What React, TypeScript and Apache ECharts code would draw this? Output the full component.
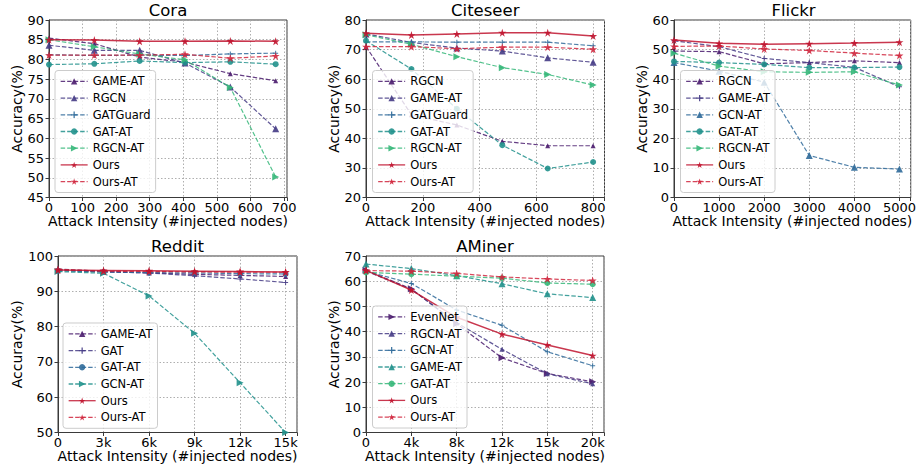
import React, { useEffect, useRef } from 'react';
import * as echarts from 'echarts';

// ---------- data ----------
const coraX = [0, 135, 270, 405, 540, 675];
const coraTicks = [0, 100, 200, 300, 400, 500, 600, 700];
const coraGameAT = [85.4, 84.0, 80.6, 79.3, 76.4, 74.6];
const coraRGCN = [83.6, 82.3, 82.3, 79.1, 73.0, 62.4];
const coraGATGuard = [81.2, 81.0, 81.1, 81.0, 81.4, 81.6];
const coraGATAT = [78.7, 78.9, 79.6, 79.2, 79.4, 78.8];
const coraRGCNAT = [85.0, 83.2, 81.4, 79.9, 72.9, 50.2];
const coraOurs = [85.0, 84.9, 84.6, 84.6, 84.7, 84.6];
const coraOursAT = [81.1, 81.1, 81.1, 81.3, 80.3, 80.9];

const citeX = [0, 160, 320, 480, 640, 800];
const citeRGCN = [71.0, 48.0, 44.5, 39.0, 37.5, 37.5];
const citeGameAT = [75.3, 72.4, 70.5, 69.5, 67.2, 65.7];
const citeGATGuard = [72.6, 72.6, 72.5, 72.5, 72.5, 71.3];
const citeGATAT = [73.0, 63.4, 50.0, 37.7, 29.8, 32.0];
const citeRGCNAT = [75.0, 71.8, 67.6, 63.9, 61.6, 58.0];
const citeOurs = [75.5, 74.9, 75.3, 75.7, 75.7, 74.6];
const citeOursAT = [71.0, 71.0, 70.3, 70.8, 70.8, 70.1];

const flickrX = [0, 1000, 2000, 3000, 4000, 5000];
const flickrRGCN = [49.5, 49.3, 45.2, 45.6, 46.2, 45.6];
const flickrGameAT = [53.0, 51.0, 47.0, 45.6, 44.0, 37.4];
const flickrGCNAT = [45.6, 42.7, 39.0, 14.2, 10.2, 9.6];
const flickrGATAT = [46.0, 45.6, 45.0, 43.9, 43.9, 44.1];
const flickrRGCNAT = [48.8, 44.4, 42.5, 42.3, 42.5, 38.0];
const flickrOurs = [53.2, 52.1, 51.8, 52.0, 52.2, 52.5];
const flickrOursAT = [51.1, 51.2, 50.2, 49.7, 48.8, 48.0];

const redditTicks = ['0', '3k', '6k', '9k', '12k', '15k'];
const redditGameAT = [96.0, 95.5, 95.2, 94.8, 94.5, 94.2];
const redditGAT = [96.3, 95.6, 95.2, 94.4, 93.5, 92.5];
const redditGATAT = [95.8, 95.5, 95.3, 95.2, 95.0, 94.9];
const redditGCNAT = [95.6, 95.1, 88.7, 78.1, 64.1, 50.0];
const redditOurs = [96.0, 95.9, 95.8, 95.7, 95.6, 95.5];
const redditOursAT = [96.2, 95.7, 95.6, 95.5, 95.4, 95.4];

const aminerTicks = ['0', '4k', '8k', '12k', '15k', '20k'];
const aminerEvenNet = [64.3, 57.0, 43.1, 29.6, 23.4, 20.1];
const aminerRGCNAT = [64.0, 56.8, 43.5, 33.0, 23.3, 19.3];
const aminerGCNAT = [64.0, 59.1, 48.6, 42.5, 32.0, 26.5];
const aminerGameAT = [66.8, 65.0, 62.2, 59.0, 55.0, 53.5];
const aminerGATAT = [63.5, 62.8, 62.0, 61.2, 59.3, 58.8];
const aminerOurs = [64.3, 56.5, 45.7, 39.0, 34.7, 30.5];
const aminerOursAT = [64.2, 64.0, 63.1, 61.7, 60.9, 60.3];

// ---------- styles ----------
const FONT = 'DejaVu Sans';
const C0 = '#4a1c6e';
const C1 = '#453b85';
const C2 = '#2f6a9a';
const C3 = '#21918c';
const C4 = '#35b779';
const CR = '#c0142f';
const CR2 = '#d0263d';
const STAR = 'path://M50,0L61.8,35.3L98.9,35.3L69,57.1L80.3,92.7L50,70.6L19.7,92.7L31,57.1L1.1,35.3L38.2,35.3Z';
const PLUS = 'path://M4,0H6V4H10V6H6V10H4V6H0V4H4Z';

type SDef = { name: string; data: number[]; color: string; symbol: string; size: number; rotate?: number; solid?: boolean };
type PDef = {
  key: string; title: string; xs: number[]; xMax: number; xInterval: number;
  xLabel: (v: number) => string; yMin: number; yMax: number; yInterval: number;
  grid: { left: number; top: number; width: number; height: number };
  legend: { left: number; top: number }; yNameGap: number; series: SDef[];
};

const idx = [0, 1, 2, 3, 4, 5];
const oursS = (d: number[]): SDef => ({ name: 'Ours', data: d, color: CR, symbol: STAR, size: 8, solid: true });
const oursAT = (d: number[]): SDef => ({ name: 'Ours-AT', data: d, color: CR2, symbol: STAR, size: 8 });

const panels: PDef[] = [
  {
    key: 'cora', title: 'Cora', xs: coraX, xMax: 708.75, xInterval: 100,
    xLabel: (v) => (coraTicks.indexOf(v) >= 0 ? String(v) : ''),
    yMin: 45, yMax: 90, yInterval: 5,
    grid: { left: 49, top: 20, width: 238, height: 177.5 },
    legend: { left: 55, top: 70.5 }, yNameGap: 23,
    series: [
      { name: 'GAME-AT', data: coraGameAT, color: C0, symbol: 'triangle', size: 5 },
      { name: 'RGCN', data: coraRGCN, color: C1, symbol: 'triangle', size: 7 },
      { name: 'GATGuard', data: coraGATGuard, color: C2, symbol: PLUS, size: 5 },
      { name: 'GAT-AT', data: coraGATAT, color: C3, symbol: 'circle', size: 6 },
      { name: 'RGCN-AT', data: coraRGCNAT, color: C4, symbol: 'triangle', size: 7, rotate: -90 },
      oursS(coraOurs), oursAT(coraOursAT),
    ],
  },
  {
    key: 'cite', title: 'Citeseer', xs: citeX, xMax: 840, xInterval: 200,
    xLabel: (v) => (v % 200 === 0 ? String(v) : ''),
    yMin: 20, yMax: 80, yInterval: 10,
    grid: { left: 366, top: 20, width: 238.5, height: 177.5 },
    legend: { left: 372.5, top: 70.5 }, yNameGap: 24,
    series: [
      { name: 'RGCN', data: citeRGCN, color: C0, symbol: 'triangle', size: 5 },
      { name: 'GAME-AT', data: citeGameAT, color: C1, symbol: 'triangle', size: 7 },
      { name: 'GATGuard', data: citeGATGuard, color: C2, symbol: PLUS, size: 5 },
      { name: 'GAT-AT', data: citeGATAT, color: C3, symbol: 'circle', size: 6 },
      { name: 'RGCN-AT', data: citeRGCNAT, color: C4, symbol: 'triangle', size: 7, rotate: -90 },
      oursS(citeOurs), oursAT(citeOursAT),
    ],
  },
  {
    key: 'flickr', title: 'Flickr', xs: flickrX, xMax: 5250, xInterval: 1000,
    xLabel: (v) => (v % 1000 === 0 ? String(v) : ''),
    yMin: 0, yMax: 60, yInterval: 10,
    grid: { left: 674, top: 20, width: 239, height: 177.5 },
    legend: { left: 680.5, top: 70.5 }, yNameGap: 24,
    series: [
      { name: 'RGCN', data: flickrRGCN, color: C0, symbol: 'triangle', size: 5 },
      { name: 'GAME-AT', data: flickrGameAT, color: C1, symbol: PLUS, size: 5 },
      { name: 'GCN-AT', data: flickrGCNAT, color: C2, symbol: 'triangle', size: 7 },
      { name: 'GAT-AT', data: flickrGATAT, color: C3, symbol: 'circle', size: 6 },
      { name: 'RGCN-AT', data: flickrRGCNAT, color: C4, symbol: 'triangle', size: 7, rotate: -90 },
      oursS(flickrOurs), oursAT(flickrOursAT),
    ],
  },
  {
    key: 'reddit', title: 'Reddit', xs: idx, xMax: 5.25, xInterval: 1,
    xLabel: (v) => (Number.isInteger(v) && redditTicks[v] !== undefined ? redditTicks[v] : ''),
    yMin: 50, yMax: 100, yInterval: 10,
    grid: { left: 58, top: 256, width: 239, height: 176.5 },
    legend: { left: 63, top: 323 }, yNameGap: 32.5,
    series: [
      { name: 'GAME-AT', data: redditGameAT, color: C0, symbol: 'triangle', size: 5 },
      { name: 'GAT', data: redditGAT, color: C1, symbol: PLUS, size: 5 },
      { name: 'GAT-AT', data: redditGATAT, color: C2, symbol: 'circle', size: 6 },
      { name: 'GCN-AT', data: redditGCNAT, color: C3, symbol: 'triangle', size: 7, rotate: -90 },
      oursS(redditOurs), oursAT(redditOursAT),
    ],
  },
  {
    key: 'aminer', title: 'AMiner', xs: idx, xMax: 5.25, xInterval: 1,
    xLabel: (v) => (Number.isInteger(v) && aminerTicks[v] !== undefined ? aminerTicks[v] : ''),
    yMin: 0, yMax: 70, yInterval: 10,
    grid: { left: 366, top: 256, width: 238, height: 176.5 },
    legend: { left: 372.5, top: 306 }, yNameGap: 24,
    series: [
      { name: 'EvenNet', data: aminerEvenNet, color: C0, symbol: 'triangle', size: 7, rotate: -90 },
      { name: 'RGCN-AT', data: aminerRGCNAT, color: C1, symbol: 'triangle', size: 5 },
      { name: 'GCN-AT', data: aminerGCNAT, color: C2, symbol: PLUS, size: 5 },
      { name: 'GAME-AT', data: aminerGameAT, color: C3, symbol: 'triangle', size: 7 },
      { name: 'GAT-AT', data: aminerGATAT, color: C4, symbol: 'circle', size: 6 },
      oursS(aminerOurs), oursAT(aminerOursAT),
    ],
  },
];

function buildOption() {
  const grid: any[] = [];
  const xAxis: any[] = [];
  const yAxis: any[] = [];
  const legend: any[] = [];
  const series: any[] = [];
  const graphic: any[] = [];
  const axisColor = '#3a3a3a';
  const splitStyle = { color: '#a6a6a6', width: 0.9, type: [1.5, 2] };

  panels.forEach((p, i) => {
    grid.push({ ...p.grid, show: true, borderColor: axisColor, borderWidth: 1, backgroundColor: 'transparent' });
    xAxis.push({
      gridIndex: i, type: 'value', min: 0, max: p.xMax, interval: p.xInterval,
      name: 'Attack Intensity (#injected nodes)', nameLocation: 'middle', nameGap: 16,
      nameTextStyle: { fontFamily: FONT, fontSize: 14, color: '#000' },
      axisLine: { show: true, onZero: false, lineStyle: { color: axisColor, width: 1 } },
      axisTick: { show: true, length: 3.5, lineStyle: { color: axisColor } },
      axisLabel: { fontFamily: FONT, fontSize: 13, color: '#000', margin: 3, formatter: (v: number) => p.xLabel(v), showMaxLabel: true },
      splitLine: { show: true, lineStyle: splitStyle },
    });
    yAxis.push({
      gridIndex: i, type: 'value', min: p.yMin, max: p.yMax, interval: p.yInterval,
      name: 'Accuracy(%)', nameLocation: 'middle', nameGap: p.yNameGap,
      nameTextStyle: { fontFamily: FONT, fontSize: 14, color: '#000' },
      axisLine: { show: true, onZero: false, lineStyle: { color: axisColor, width: 1 } },
      axisTick: { show: true, length: 3.5, lineStyle: { color: axisColor } },
      axisLabel: { fontFamily: FONT, fontSize: 13, color: '#000', margin: 5 },
      splitLine: { show: true, lineStyle: splitStyle },
    });
    const names: string[] = [];
    p.series.forEach((s, k) => {
      const nm = p.key + '|' + s.name;
      names.push(nm);
      series.push({
        type: 'line', name: nm, xAxisIndex: i, yAxisIndex: i,
        data: p.xs.map((x, j) => [x, s.data[j]]),
        symbol: s.symbol, symbolSize: s.size, symbolRotate: s.rotate || 0,
        showSymbol: true, z: 2 + k * 0.01 + (s.solid ? 1 : 0),
        lineStyle: { color: s.color, width: s.solid ? 1.5 : 1.2, type: s.solid ? 'solid' : [4.5, 2], opacity: 0.85 },
        itemStyle: { color: s.color, opacity: 0.9 },
        emphasis: { disabled: true },
      });
    });
    legend.push({
      data: names, orient: 'vertical', left: p.legend.left, top: p.legend.top,
      itemWidth: 27, itemHeight: 8, itemGap: 3.7, padding: [4.4, 5, 4.4, 5],
      backgroundColor: 'rgba(255,255,255,0.8)', borderColor: '#cccccc', borderWidth: 1, borderRadius: 3,
      selectedMode: false,
      textStyle: { fontFamily: FONT, fontSize: 11.5, lineHeight: 13, color: '#000' },
      lineStyle: { width: 1.3 },
      formatter: (n: string) => n.split('|')[1],
    });
    graphic.push({
      type: 'text', x: p.grid.left + p.grid.width / 2, y: i < 3 ? 1.5 : 237.5,
      style: { text: p.title, fontFamily: FONT, fontSize: 16.5, fontWeight: 'normal', fill: '#000', align: 'center', verticalAlign: 'top' },
    });
  });

  return {
    animation: false,
    backgroundColor: '#ffffff',
    textStyle: { fontFamily: FONT },
    grid, xAxis, yAxis, legend, series, graphic,
  };
}

export default function App() {
  const ref = useRef<HTMLDivElement>(null);
  useEffect(() => {
    if (!ref.current) return;
    const chart = echarts.init(ref.current, undefined, { renderer: 'svg' });
    chart.setOption(buildOption() as any);
    return () => chart.dispose();
  }, []);
  return <div ref={ref} style={{ position: 'absolute', left: 0, top: 0, width: 919, height: 473 }} />;
}
